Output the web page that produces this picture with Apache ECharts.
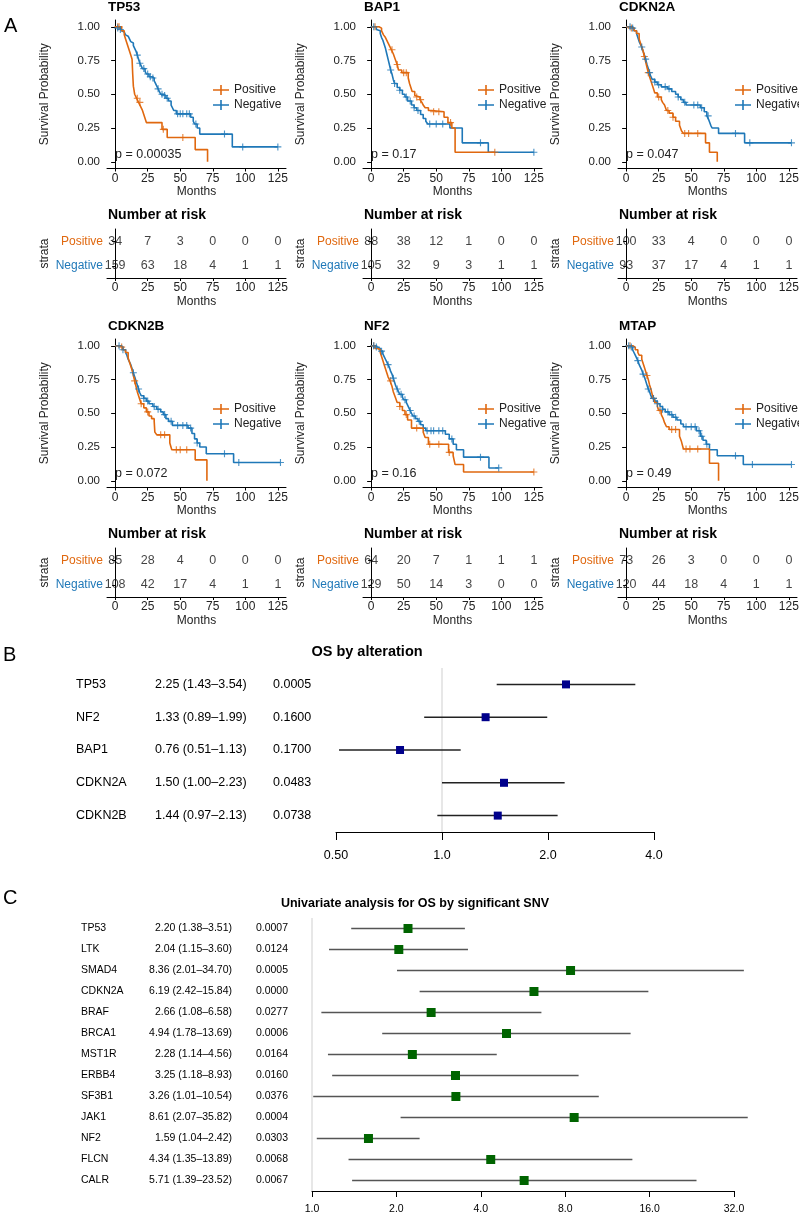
<!DOCTYPE html>
<html>
<head>
<meta charset="utf-8">
<script src="https://cdn.jsdelivr.net/npm/echarts@6/dist/echarts.min.js"></script>
<style>
  html, body { margin: 0; padding: 0; background: #fff; }
  #chart { width: 799px; height: 1214px; }
</style>
</head>
<body>
<div id="chart"></div>
<script>
// ---------- data: Kaplan-Meier steps [month, survival], censor months, numbers at risk ----------
const riskTimes = [0, 25, 50, 75, 100, 125];
const kmGenes = ['TP53', 'BAP1', 'CDKN2A', 'CDKN2B', 'NF2', 'MTAP'];
const kmPvals = ['p = 0.00035', 'p = 0.17', 'p = 0.047', 'p = 0.072', 'p = 0.16', 'p = 0.49'];

const tp53Pos = [[0,1],[5,0.97],[7,0.94],[8,0.91],[9,0.88],[10,0.85],[11,0.82],[12,0.79],[13,0.76],[13.5,0.65],[14,0.56],[14.5,0.53],[15,0.50],[16.5,0.47],[18,0.44],[19.5,0.41],[21,0.38],[22,0.35],[23,0.32],[24,0.29],[36,0.24],[40,0.18],[61.5,0.09],[71,0]];
const tp53Neg = [[0,1],[2,0.99],[4,0.98],[5,0.97],[6,0.96],[7,0.95],[8,0.94],[9,0.93],[10,0.92],[11,0.91],[12,0.89],[13,0.88],[14,0.86],[15,0.84],[16,0.82],[17,0.79],[18,0.76],[19,0.73],[20,0.71],[21,0.69],[23,0.67],[24,0.65],[26,0.63],[28,0.62],[30,0.60],[31,0.58],[32,0.56],[33,0.54],[34,0.52],[35,0.50],[37,0.49],[39,0.47],[41,0.45],[43,0.42],[44,0.40],[45,0.38],[47,0.355],[58,0.33],[60,0.30],[61,0.28],[63,0.25],[65,0.205],[90,0.11],[125,0.11]];
const tp53PosCens = [2, 3, 17, 19, 37, 52];
const tp53NegCens = [2, 4, 17, 19, 22, 25, 27, 29, 33, 36, 38, 40, 48, 50, 52, 55, 57, 62, 84, 98, 125];
const tp53RiskPos = [34, 7, 3, 0, 0, 0];
const tp53RiskNeg = [159, 63, 18, 4, 1, 1];

const bap1Pos = [[0,1],[6,0.99],[8,0.97],[9.5,0.94],[11,0.92],[12.5,0.89],[14,0.86],[15.5,0.83],[17,0.80],[18.5,0.76],[20,0.72],[21,0.68],[23.5,0.66],[28.5,0.62],[29.5,0.58],[30.5,0.55],[31.5,0.52],[33.5,0.49],[35,0.48],[37.5,0.46],[39,0.44],[40,0.42],[41.5,0.40],[44,0.38],[46.5,0.37],[56,0.33],[59,0.29],[62,0.25],[64.5,0.07],[95,0.07]];
const bap1Neg = [[0,1],[4,0.98],[5.5,0.97],[7,0.95],[8,0.92],[9,0.90],[10,0.87],[11,0.84],[12,0.80],[13,0.76],[14,0.72],[15,0.68],[16,0.65],[17,0.61],[18,0.58],[20,0.55],[22,0.53],[24,0.50],[26,0.48],[28,0.45],[31,0.42],[33,0.40],[35,0.38],[38,0.35],[40,0.32],[42,0.30],[43.5,0.28],[60.5,0.25],[70,0.14],[90,0.07],[125,0.07]];
const bap1PosCens = [3, 16, 20, 25, 27, 35, 38, 48, 52, 61, 95];
const bap1NegCens = [2, 15, 18, 22, 27, 30, 33, 36, 45, 50, 55, 84, 125];
const bap1RiskPos = [88, 38, 12, 1, 0, 0];
const bap1RiskNeg = [105, 32, 9, 3, 1, 1];

const cdkn2aPos = [[0,1],[4,0.99],[6,0.97],[8,0.95],[10,0.91],[11,0.88],[12,0.85],[13,0.82],[14,0.78],[15,0.74],[16,0.70],[17,0.66],[18,0.63],[19,0.60],[20,0.57],[21,0.54],[22,0.51],[24,0.48],[27,0.46],[28,0.44],[29.5,0.42],[31,0.38],[33,0.36],[36,0.33],[38,0.30],[41,0.27],[42.5,0.23],[44,0.21],[61,0.14],[64,0.07],[70,0]];
const cdkn2aNeg = [[0,1],[4,0.99],[6,0.97],[8,0.95],[9,0.92],[10,0.89],[11,0.87],[12,0.85],[13,0.82],[14,0.79],[15,0.76],[16,0.72],[17,0.69],[18,0.66],[19,0.63],[20,0.61],[22,0.59],[24,0.57],[27,0.555],[32,0.54],[35,0.52],[38,0.50],[40,0.48],[42,0.46],[44,0.44],[46,0.42],[57,0.40],[60,0.37],[62,0.34],[63.5,0.31],[65,0.27],[66,0.25],[71,0.21],[91,0.14],[127,0.14]];
const cdkn2aPosCens = [4, 14, 17, 25, 32, 36, 45, 48, 55];
const cdkn2aNegCens = [3, 5, 12, 15, 18, 22, 25, 30, 33, 40, 45, 52, 55, 58, 63, 84, 95, 127];
const cdkn2aRiskPos = [100, 33, 4, 0, 0, 0];
const cdkn2aRiskNeg = [93, 37, 17, 4, 1, 1];

const cdkn2bPos = [[0,1],[4,0.99],[6,0.97],[8,0.95],[10,0.91],[11,0.88],[12,0.85],[13,0.82],[14,0.78],[15,0.74],[16,0.70],[17,0.66],[18,0.63],[19,0.60],[20,0.57],[22,0.54],[24,0.51],[26,0.48],[28,0.46],[30,0.44],[30.5,0.36],[32,0.34],[42,0.28],[43.5,0.23],[61.5,0.155],[70.5,0]];
const cdkn2bNeg = [[0,1],[4,0.99],[6,0.97],[8,0.95],[9,0.93],[10,0.90],[11,0.88],[12,0.86],[13,0.83],[14,0.80],[15,0.77],[16,0.74],[17,0.71],[18,0.68],[19,0.65],[20,0.63],[22,0.61],[24,0.59],[26,0.57],[29,0.55],[32,0.53],[35,0.51],[37,0.49],[39,0.46],[41,0.44],[44,0.41],[56,0.39],[59,0.35],[61,0.31],[63,0.28],[65,0.25],[70,0.20],[91,0.135],[127,0.135]];
const cdkn2bPosCens = [5, 15, 20, 25, 35, 38, 47, 50, 55];
const cdkn2bNegCens = [3, 6, 14, 18, 22, 25, 30, 33, 38, 43, 48, 52, 55, 58, 63, 84, 95, 127];
const cdkn2bRiskPos = [85, 28, 4, 0, 0, 0];
const cdkn2bRiskNeg = [108, 42, 17, 4, 1, 1];

const nf2Pos = [[0,1],[3,0.98],[5,0.97],[7,0.95],[8,0.92],[9,0.89],[10,0.86],[11,0.83],[12,0.80],[13,0.77],[14.5,0.74],[16,0.70],[17,0.66],[18.5,0.62],[20,0.58],[22,0.55],[24,0.52],[26,0.49],[28,0.45],[31,0.39],[40,0.36],[41.5,0.32],[44,0.27],[59.5,0.21],[63,0.185],[64.5,0.12],[71,0.065],[125,0.065]];
const nf2Neg = [[0,1],[3,0.99],[5,0.98],[7,0.96],[9,0.94],[10,0.92],[11,0.90],[12,0.88],[13,0.86],[14,0.84],[15,0.81],[16,0.79],[17,0.76],[18,0.73],[19,0.70],[20,0.68],[21,0.66],[22,0.64],[24,0.62],[25,0.60],[27,0.58],[28,0.56],[29,0.54],[30,0.52],[31,0.50],[32,0.48],[34,0.46],[36,0.44],[38,0.415],[40,0.39],[42,0.37],[57,0.345],[60,0.31],[63,0.27],[65.5,0.23],[71,0.175],[90.5,0.095],[98,0.095]];
const nf2PosCens = [2, 15, 22, 27, 35, 45, 52, 60, 125];
const nf2NegCens = [2, 4, 8, 13, 17, 20, 23, 26, 30, 33, 37, 43, 46, 48, 52, 55, 62, 84, 98];
const nf2RiskPos = [64, 20, 7, 1, 1, 1];
const nf2RiskNeg = [129, 50, 14, 3, 0, 0];

const mtapPos = [[0,1],[5,0.99],[7,0.97],[9,0.95],[10,0.93],[12,0.90],[13,0.87],[14,0.84],[15,0.81],[16,0.78],[17,0.75],[18,0.71],[19,0.68],[20,0.64],[21,0.61],[22,0.58],[24,0.55],[25,0.52],[27,0.49],[28.5,0.46],[29.5,0.43],[31,0.40],[33,0.38],[41,0.33],[42.5,0.29],[44,0.235],[64,0.13],[71,0]];
const mtapNeg = [[0,1],[3,0.99],[5,0.97],[6,0.95],[7,0.93],[8,0.91],[9,0.89],[10,0.86],[11,0.84],[12,0.82],[13,0.79],[14,0.77],[15,0.74],[16,0.71],[17,0.68],[18,0.66],[19,0.63],[20,0.61],[22,0.59],[24,0.57],[26,0.55],[28,0.53],[30,0.51],[33,0.49],[36,0.47],[39,0.45],[42,0.42],[44,0.40],[54,0.37],[57,0.33],[59,0.30],[61.5,0.27],[64,0.23],[70,0.185],[90,0.12],[127,0.12]];
const mtapPosCens = [3, 16, 21, 26, 35, 38, 46, 49, 55];
const mtapNegCens = [2, 4, 9, 13, 17, 21, 24, 28, 32, 35, 38, 46, 50, 53, 56, 58, 62, 84, 97, 127];
const mtapRiskPos = [73, 26, 3, 0, 0, 0];
const mtapRiskNeg = [120, 44, 18, 4, 1, 1];

// forest B
const bGenes = ['TP53', 'NF2', 'BAP1', 'CDKN2A', 'CDKN2B'];
const bHr = [2.25, 1.33, 0.76, 1.50, 1.44];
const bLow = [1.43, 0.89, 0.51, 1.00, 0.97];
const bHigh = [3.54, 1.99, 1.13, 2.23, 2.13];
const bP = ['0.0005', '0.1600', '0.1700', '0.0483', '0.0738'];
const bTicks = [0.5, 1, 2, 4];

// forest C
const cGenes = ['TP53', 'LTK', 'SMAD4', 'CDKN2A', 'BRAF', 'BRCA1', 'MST1R', 'ERBB4', 'SF3B1', 'JAK1', 'NF2', 'FLCN', 'CALR'];
const cHr = [2.20, 2.04, 8.36, 6.19, 2.66, 4.94, 2.28, 3.25, 3.26, 8.61, 1.59, 4.34, 5.71];
const cLow = [1.38, 1.15, 2.01, 2.42, 1.08, 1.78, 1.14, 1.18, 1.01, 2.07, 1.04, 1.35, 1.39];
const cHigh = [3.51, 3.60, 34.70, 15.84, 6.58, 13.69, 4.56, 8.93, 10.54, 35.82, 2.42, 13.89, 23.52];
const cP = ['0.0007', '0.0124', '0.0005', '0.0000', '0.0277', '0.0006', '0.0164', '0.0160', '0.0376', '0.0004', '0.0303', '0.0068', '0.0067'];
const cTicks = [1, 2, 4, 8, 16, 32];

// ---------- layout / style ----------
const FONT = 'Liberation Sans, Arial, Helvetica, sans-serif';
const ORANGE = '#E0680F';
const BLUE = '#1F78B8';
const colLeft = [107, 363, 618];
const legendLeft = [208, 473, 730];
const ROW = 319;
const PW = 179;
const CROSS = 'path://M0,4.2H10V5.8H0Z M4.2,0H5.8V10H4.2Z';
const LEGEND_ICON = 'path://M0,4.2H16V5.8H0Z M7.2,0H8.8V10H7.2Z';

const kmSets = [
  [tp53Pos, tp53Neg, tp53PosCens, tp53NegCens, tp53RiskPos, tp53RiskNeg],
  [bap1Pos, bap1Neg, bap1PosCens, bap1NegCens, bap1RiskPos, bap1RiskNeg],
  [cdkn2aPos, cdkn2aNeg, cdkn2aPosCens, cdkn2aNegCens, cdkn2aRiskPos, cdkn2aRiskNeg],
  [cdkn2bPos, cdkn2bNeg, cdkn2bPosCens, cdkn2bNegCens, cdkn2bRiskPos, cdkn2bRiskNeg],
  [nf2Pos, nf2Neg, nf2PosCens, nf2NegCens, nf2RiskPos, nf2RiskNeg],
  [mtapPos, mtapNeg, mtapPosCens, mtapNegCens, mtapRiskPos, mtapRiskNeg]
];

function survAt(curve, t) {
  let s = 1;
  for (const [tt, v] of curve) {
    if (tt <= t) s = v; else break;
  }
  return s;
}

const grid = [], xAxis = [], yAxis = [], series = [], legend = [], graphic = [];

function monthAxis(gi, gap) {
  return {
    type: 'value', gridIndex: gi, min: -6.25, max: 131.25,
    axisLine: { show: true, onZero: false, lineStyle: { color: '#000', width: 1 } },
    axisTick: { show: true, length: 3, customValues: riskTimes, lineStyle: { color: '#000' } },
    axisLabel: { customValues: riskTimes, fontSize: 12, color: '#222', margin: 4, fontFamily: FONT },
    splitLine: { show: false },
    name: 'Months', nameLocation: 'middle', nameGap: gap,
    nameTextStyle: { fontSize: 12, color: '#222', fontFamily: FONT }
  };
}

kmSets.forEach((set, i) => {
  const [pos, neg, posC, negC, rPos, rNeg] = set;
  const col = i % 3, row = Math.floor(i / 3);
  const left = colLeft[col];
  const gKm = grid.length;
  grid.push({ left: left, top: 20 + row * ROW, width: PW, height: 148.5, containLabel: false, outerBoundsMode: 'none' });
  const gRisk = grid.length;
  grid.push({ left: left, top: 229 + row * ROW, width: PW, height: 49, containLabel: false, outerBoundsMode: 'none' });

  xAxis.push(monthAxis(gKm, 15));
  xAxis.push(monthAxis(gRisk, 18));
  yAxis.push({
    type: 'value', gridIndex: gKm, min: -0.05, max: 1.05,
    axisLine: { show: true, lineStyle: { color: '#000', width: 1 } },
    axisTick: { show: true, length: 4, customValues: [0, 0.25, 0.5, 0.75, 1], lineStyle: { color: '#000' } },
    axisLabel: { customValues: [0, 0.25, 0.5, 0.75, 1], formatter: v => v.toFixed(2), fontSize: 11.5, color: '#222', margin: 7, fontFamily: FONT },
    splitLine: { show: false },
    name: 'Survival Probability', nameLocation: 'middle', nameGap: 56,
    nameTextStyle: { fontSize: 12, color: '#222', fontFamily: FONT }
  });
  yAxis.push({
    type: 'category', gridIndex: gRisk, data: ['Negative', 'Positive'],
    axisLine: { show: true, lineStyle: { color: '#000', width: 1 } },
    axisTick: { show: true, length: 3, alignWithLabel: true, lineStyle: { color: '#000' } },
    axisLabel: { fontSize: 12, margin: 4, fontFamily: FONT, color: (v) => v === 'Positive' ? ORANGE : BLUE },
    name: 'strata', nameLocation: 'middle', nameGap: 56,
    nameTextStyle: { fontSize: 12, color: '#222', fontFamily: FONT }
  });

  const xi = gKm, yi = gKm;
  series.push({ name: 'Positive', type: 'line', step: 'end', xAxisIndex: xi, yAxisIndex: yi, data: pos, showSymbol: false, symbol: 'none', color: ORANGE, lineStyle: { width: 1.6, color: ORANGE }, z: 3 });
  series.push({ name: 'Negative', type: 'line', step: 'end', xAxisIndex: xi, yAxisIndex: yi, data: neg, showSymbol: false, symbol: 'none', color: BLUE, lineStyle: { width: 1.6, color: BLUE }, z: 2 });
  series.push({ name: 'censor+', type: 'scatter', xAxisIndex: xi, yAxisIndex: yi, symbol: CROSS, symbolSize: 7, itemStyle: { color: ORANGE }, data: posC.map(t => [t, survAt(pos, t)]), z: 4 });
  series.push({ name: 'censor-', type: 'scatter', xAxisIndex: xi, yAxisIndex: yi, symbol: CROSS, symbolSize: 7, itemStyle: { color: BLUE }, data: negC.map(t => [t, survAt(neg, t)]), z: 4 });
  series.push({
    name: 'risk', type: 'scatter', xAxisIndex: gRisk, yAxisIndex: gRisk, symbolSize: 1,
    itemStyle: { color: 'rgba(0,0,0,0)' },
    label: { show: true, position: 'inside', formatter: p => p.value[2], fontSize: 12.5, color: '#111', fontFamily: FONT },
    data: riskTimes.map((t, k) => [t, 'Positive', rPos[k]]).concat(riskTimes.map((t, k) => [t, 'Negative', rNeg[k]]))
  });

  legend.push({
    left: legendLeft[col], top: 79 + row * ROW, orient: 'vertical', itemGap: 3,
    itemWidth: 16, itemHeight: 10, icon: LEGEND_ICON, selectedMode: false,
    data: ['Positive', 'Negative'],
    textStyle: { fontSize: 12, color: '#222', fontFamily: FONT, padding: [0, 0, 0, 0] }
  });

  graphic.push({ type: 'text', x: left + 1, y: 7.5 + row * ROW, style: { text: kmGenes[i], fontSize: 13.5, fontWeight: 'bold', fill: '#000', fontFamily: FONT, verticalAlign: 'middle' } });
  graphic.push({ type: 'text', x: left + 1, y: 215 + row * ROW, style: { text: 'Number at risk', fontSize: 14, fontWeight: 'bold', fill: '#000', fontFamily: FONT, verticalAlign: 'middle' } });
  graphic.push({ type: 'text', x: left + 8, y: 155 + row * ROW, style: { text: kmPvals[i], fontSize: 12.5, fill: '#222', fontFamily: FONT, verticalAlign: 'middle' } });
});

// ---------- forest plots ----------
function forestSeries(gi, hr, lo, hi, fill, stroke, size) {
  return {
    type: 'custom', xAxisIndex: gi, yAxisIndex: gi, clip: false, z: 5,
    data: hr.map((h, k) => [h, lo[k], hi[k], k]),
    encode: { x: [0, 1, 2], y: 3 },
    renderItem: (params, api) => {
      const k = api.value(3);
      const a = api.coord([api.value(1), k]);
      const b = api.coord([api.value(2), k]);
      const c = api.coord([api.value(0), k]);
      return {
        type: 'group',
        children: [
          { type: 'line', shape: { x1: a[0], y1: a[1], x2: b[0], y2: b[1] }, style: { stroke: stroke, lineWidth: 1.5 } },
          { type: 'rect', shape: { x: c[0] - size / 2, y: c[1] - size / 2, width: size, height: size }, style: { fill: fill } }
        ]
      };
    }
  };
}
function refLine(gi) {
  return {
    type: 'custom', xAxisIndex: gi, yAxisIndex: gi, clip: false, z: 1,
    data: [[1, 0]], encode: { x: 0, y: 1 },
    renderItem: (params, api) => {
      const p = api.coord([1, 0]);
      const cs = params.coordSys;
      return { type: 'line', shape: { x1: p[0], y1: cs.y, x2: p[0], y2: cs.y + cs.height }, style: { stroke: '#cfcfcf', lineWidth: 1 } };
    }
  };
}
const fmtRatio = v => (v < 1 ? v.toFixed(2) : v.toFixed(1));
const ci = (h, l, u) => h.toFixed(2) + ' (' + l.toFixed(2) + '\u2013' + u.toFixed(2) + ')';

const gB = grid.length;
grid.push({ left: 336, top: 668, width: 318, height: 164, containLabel: false, outerBoundsMode: 'none' });
xAxis.push({
  type: 'log', logBase: 2, gridIndex: gB, min: 0.5, max: 4,
  axisLine: { show: true, lineStyle: { color: '#000', width: 1 } },
  axisTick: { show: true, length: 8, customValues: bTicks, lineStyle: { color: '#000' } },
  axisLabel: { customValues: bTicks, formatter: fmtRatio, fontSize: 12.5, color: '#000', margin: 17, fontFamily: FONT },
  splitLine: { show: false }, minorTick: { show: false }
});
yAxis.push({
  type: 'category', gridIndex: gB, data: bGenes, inverse: true,
  axisLine: { show: false }, axisTick: { show: false },
  axisLabel: {
    margin: 23, fontFamily: FONT,
    formatter: (v, k) => '{g|' + bGenes[k] + '}{h|' + ci(bHr[k], bLow[k], bHigh[k]) + '}{p|' + bP[k] + '}',
    rich: {
      g: { width: 79, align: 'left', fontSize: 12.5, color: '#000', fontFamily: FONT },
      h: { width: 118, align: 'left', fontSize: 12.5, color: '#000', fontFamily: FONT },
      p: { width: 40, align: 'left', fontSize: 12.5, color: '#000', fontFamily: FONT }
    }
  }
});
series.push(refLine(gB));
series.push(forestSeries(gB, bHr, bLow, bHigh, '#00008B', '#222', 8));

const gC = grid.length;
grid.push({ left: 312, top: 918, width: 422, height: 273, containLabel: false, outerBoundsMode: 'none' });
xAxis.push({
  type: 'log', logBase: 2, gridIndex: gC, min: 1, max: 32,
  axisLine: { show: true, lineStyle: { color: '#000', width: 1 } },
  axisTick: { show: true, length: 6, customValues: cTicks, lineStyle: { color: '#000' } },
  axisLabel: { customValues: cTicks, formatter: fmtRatio, fontSize: 10.5, color: '#000', margin: 13, fontFamily: FONT },
  splitLine: { show: false }, minorTick: { show: false }
});
yAxis.push({
  type: 'category', gridIndex: gC, data: cGenes, inverse: true,
  axisLine: { show: false }, axisTick: { show: false },
  axisLabel: {
    margin: 24, fontFamily: FONT,
    formatter: (v, k) => '{g|' + cGenes[k] + '}{h|' + ci(cHr[k], cLow[k], cHigh[k]) + '}{p|' + cP[k] + '}',
    rich: {
      g: { width: 75, align: 'left', fontSize: 10.5, color: '#000', fontFamily: FONT },
      h: { width: 76, align: 'right', fontSize: 10.5, color: '#000', fontFamily: FONT },
      p: { width: 56, align: 'right', fontSize: 10.5, color: '#000', fontFamily: FONT }
    }
  }
});
series.push(refLine(gC));
series.push(forestSeries(gC, cHr, cLow, cHigh, '#006400', '#555', 9));

// panel letters and titles
graphic.push({ type: 'text', x: 4, y: 26, style: { text: 'A', fontSize: 20, fill: '#000', fontFamily: FONT, verticalAlign: 'middle' } });
graphic.push({ type: 'text', x: 3, y: 655, style: { text: 'B', fontSize: 20, fill: '#000', fontFamily: FONT, verticalAlign: 'middle' } });
graphic.push({ type: 'text', x: 3, y: 898, style: { text: 'C', fontSize: 20, fill: '#000', fontFamily: FONT, verticalAlign: 'middle' } });
graphic.push({ type: 'text', x: 367, y: 652, style: { text: 'OS by alteration', fontSize: 14.5, fontWeight: 'bold', fill: '#000', fontFamily: FONT, align: 'center', verticalAlign: 'middle' } });
graphic.push({ type: 'text', x: 415, y: 904, style: { text: 'Univariate analysis for OS by significant SNV', fontSize: 12.5, fontWeight: 'bold', fill: '#000', fontFamily: FONT, align: 'center', verticalAlign: 'middle' } });

const chart = echarts.init(document.getElementById('chart'), null, { renderer: 'canvas' });
chart.setOption({
  animation: false,
  backgroundColor: '#fff',
  textStyle: { fontFamily: FONT },
  grid: grid,
  xAxis: xAxis,
  yAxis: yAxis,
  legend: legend,
  series: series,
  graphic: graphic
});
</script>
</body>
</html>
